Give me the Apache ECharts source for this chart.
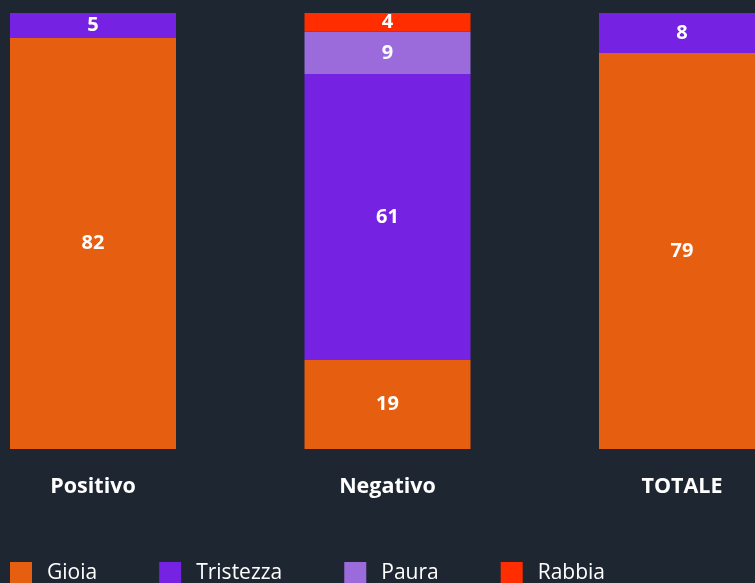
<!DOCTYPE html>
<html>
<head>
<meta charset="utf-8">
<style>
  html, body { margin: 0; padding: 0; background: #1e2631; }
  #chart { width: 755px; height: 583px; }
</style>
<script src="https://cdn.jsdelivr.net/npm/echarts@6/dist/echarts.min.js"></script>
</head>
<body>
<div id="chart"></div>
<script>
// Data
const categories = ["Positivo", "Negativo", "TOTALE"];
const seriesNames = ["Gioia", "Tristezza", "Paura", "Rabbia"];
const gioia = [82, 19, 79];
const tristezza = [5, 61, 8];
const paura = [0, 9, 0];
const rabbia = [0, 4, 0];
const colors = ["#e65e10", "#7522e2", "#9b6bdb", "#ff2d00"];

const rawSeries = [gioia, tristezza, paura, rabbia];

// totals per category, used to stack as share of 100
const totals = categories.map((c, i) =>
  rawSeries.reduce((sum, arr) => sum + arr[i], 0)
);

const chart = echarts.init(document.getElementById("chart"));

const series = rawSeries.map((arr, s) => ({
  name: seriesNames[s],
  type: "bar",
  stack: "total",
  barWidth: 166,
  itemStyle: { color: colors[s] },
  label: {
    show: true,
    position: "inside",
    color: "#ffffff",
    fontFamily: "Open Sans",
    fontWeight: "bold",
    fontSize: 20,
    formatter: (p) => (arr[p.dataIndex] > 0 ? arr[p.dataIndex] : ""),
  },
  data: arr.map((v, i) => (v / totals[i]) * 100),
}));

chart.setOption({
  backgroundColor: "#1e2631",
  animation: false,
  grid: {
    left: -54.25,
    right: -74.25,
    top: 13,
    bottom: 134,
    containLabel: false,
    outerBoundsMode: "none",
  },
  legend: {
    left: 10,
    top: 562,
    padding: 0,
    itemWidth: 22,
    itemHeight: 22,
    itemGap: 62,
    icon: "rect",
    textStyle: {
      color: "#ffffff",
      fontFamily: "Open Sans",
      fontSize: 21,
      padding: [0, 0, 0, 10],
    },
    data: seriesNames,
  },
  xAxis: {
    type: "category",
    data: categories,
    axisLine: { show: false },
    axisTick: { show: false },
    axisLabel: {
      color: "#ffffff",
      fontFamily: "Open Sans",
      fontWeight: "bold",
      fontSize: 21.5,
      margin: 27,
    },
  },
  yAxis: {
    type: "value",
    min: 0,
    max: 100,
    show: false,
    splitLine: { show: false },
  },
  series: series,
});
</script>
</body>
</html>
